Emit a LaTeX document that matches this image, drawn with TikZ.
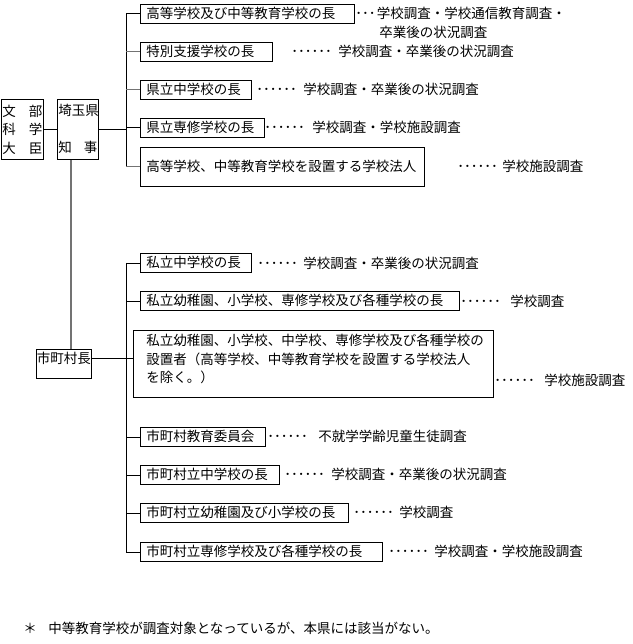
\documentclass[tikz,border=0pt]{standalone}
\usepackage{fontspec}
\newfontfamily\jpfont{Noto Sans CJK JP}
\newcommand{\dotlead}[1]{\makebox[#1][l]{･･････}}

\begin{document}
\begin{tikzpicture}[x=1pt,y=-1pt,
  font=\jpfont\fontsize{13.5}{18.5}\selectfont,
  line width=0.8pt,
  box/.style={draw, anchor=north west, align=left, inner ysep=0pt},
  head/.style={box, inner xsep=1pt, minimum height=60pt},
  leaf/.style={box, inner xsep=6pt, text height=12pt, text depth=2pt, minimum height=19pt},
  note/.style={anchor=west, inner sep=0pt, text height=12pt, text depth=2pt},
  feed/.style={draw=black!55, line width=1.5pt}]

\useasboundingbox (0,0) rectangle (632,644);

% Minister and governor
\node[head, text width=40pt] (min) at (1,99) {文\hspace{13pt}部\\科\hspace{13pt}学\\大\hspace{13pt}臣};
\node[head, text width=39pt] (gov) at (57,99) {埼玉県\\[18.5pt]知\hspace{12pt}事};

% Prefectural side
\node[leaf, text width=202pt] (a1) at (140,4) {高等学校及び中等教育学校の長};
\node[leaf, text width=120pt] (a2) at (140,42) {特別支援学校の長};
\node[leaf, text width=99pt] (a3) at (140,80) {県立中学校の長};
\node[leaf, text width=112pt] (a4) at (140,118) {県立専修学校の長};
\node[leaf, text width=272pt, minimum height=39pt] (a5) at (140,147) {高等学校、中等教育学校を設置する学校法人};

% Mayor
\node[box, text width=54pt, inner xsep=0.5pt, text height=14pt, text depth=15pt] (mayor) at (36,349) {市町村長};

% Municipal side
\node[leaf, text width=99pt] (b1) at (140,253) {私立中学校の長};
\node[leaf, text width=307pt] (b2) at (140,291) {私立幼稚園、小学校、専修学校及び各種学校の長};
\node[box, text width=334pt, inner xsep=13pt, inner ysep=4pt, text depth=48pt] (b3) at (133,330)
  {私立幼稚園、小学校、中学校、専修学校及び各種学校の\\設置者（高等学校、中等教育学校を設置する学校法人\\を除く。）};
\node[leaf, text width=113pt] (b4) at (140,427) {市町村教育委員会};
\node[leaf, text width=127pt] (b5) at (140,465) {市町村立中学校の長};
\node[leaf, text width=196pt] (b6) at (140,503) {市町村立幼稚園及び小学校の長};
\node[leaf, text width=230pt] (b7) at (140,542) {市町村立専修学校及び各種学校の長};

% Surveys
\node[note] (na1) at (355,14) {\makebox[21.5pt][l]{･･･}学校調査・学校通信教育調査・};
\node[note] (na1b) at (379,33) {卒業後の状況調査};
\node[note] (na2) at (291,51.5) {\dotlead{47pt}学校調査・卒業後の状況調査};
\node[note] (na3) at (256,89.5) {\dotlead{47pt}学校調査・卒業後の状況調査};
\node[note] (na4) at (264,128) {\dotlead{48pt}学校調査・学校施設調査};
\node[note] (na5) at (457,166.5) {\dotlead{45pt}学校施設調査};
\node[note] (nb1) at (257,263) {\dotlead{46pt}学校調査・卒業後の状況調査};
\node[note] (nb2) at (460,301) {\dotlead{50pt}学校調査};
\node[note] (nb3) at (494,380) {\dotlead{50pt}学校施設調査};
\node[note] (nb4) at (267,436.5) {\dotlead{51pt}不就学学齢児童生徒調査};
\node[note] (nb5) at (284,474.5) {\dotlead{47pt}学校調査・卒業後の状況調査};
\node[note] (nb6) at (353,512.5) {\dotlead{46pt}学校調査};
\node[note] (nb7) at (388,551.5) {\dotlead{46pt}学校調査・学校施設調査};

% Footnote
\node[note] (foot) at (23,628) {\makebox[25pt][l]{＊}中等教育学校が調査対象となっているが、本県には該当がない。};

% Connectors, prefectural side
\coordinate (bus1) at (126,128);
\draw (min) -- (gov);
\draw (gov.east) -- (gov.east -| bus1);
\draw (a1.west) -- (bus1 |- a1.west) -- (bus1 |- a5.west);
\foreach \n in {a2,a3,a5}
  \draw[draw=black!55] (bus1 |- \n.west) -- (\n.west);
\draw (bus1 |- a4.west) -- (a4.west);

% Governor down to mayor
\draw[feed] ([xshift=14pt]gov.south west) -- ([xshift=14pt]gov.south west |- mayor.north);

% Connectors, municipal side
\coordinate (bus2) at (126,358);
\draw (mayor.east |- bus2) -- (bus2 -| b3.west);
\draw (bus2 |- b1.west) -- (bus2 |- b7.west);
\foreach \n in {b1,b2,b4,b5,b6,b7}
  \draw (bus2 |- \n.west) -- (\n.west);

\end{tikzpicture}
\end{document}
